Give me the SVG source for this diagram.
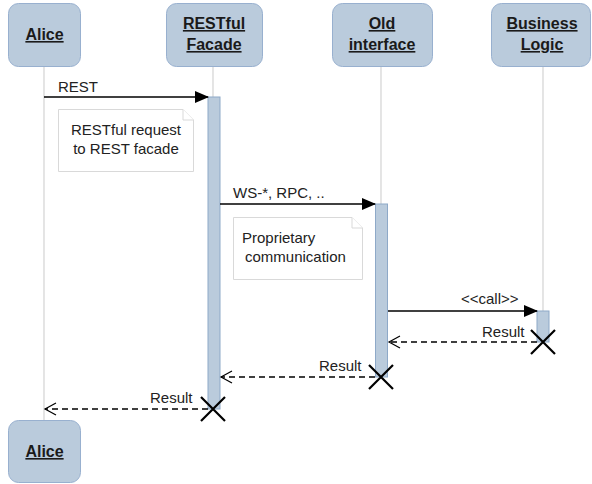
<svg xmlns="http://www.w3.org/2000/svg" width="592" height="484" viewBox="0 0 592 484">
<style>
.box{fill:#bacbdc;stroke:#98b0cf;stroke-width:1}
.lbl{font-family:"Liberation Sans",Arial,sans-serif;font-size:16px;font-weight:bold;text-decoration:underline;fill:#1a1a1a;text-anchor:middle}
.life{stroke:#d3d3d3;stroke-width:1.2;fill:none}
.act{fill:#bacbdc;stroke:#8ea9c8;stroke-width:1}
.msg{stroke:#000;stroke-width:1.3;fill:none}
.ret{stroke:#000;stroke-width:1.3;fill:none;stroke-dasharray:6 4}
.txt{font-family:"Liberation Sans",Arial,sans-serif;font-size:15px;fill:#222}
.note{fill:#fff;stroke:#d9d9d9;stroke-width:1}
.x{stroke:#000;stroke-width:2.2}
</style>
<defs>
<marker id="fill" markerWidth="14" markerHeight="12" refX="13" refY="6" orient="auto" markerUnits="userSpaceOnUse"><path d="M0,0 L14,6 L0,12 Z" fill="#000"/></marker>
<marker id="open" markerWidth="14" markerHeight="14" refX="12" refY="7" orient="auto" markerUnits="userSpaceOnUse"><path d="M1,1 L12,7 L1,13" fill="none" stroke="#000" stroke-width="1.2"/></marker>
</defs>
<g id="lifelines">
<line class="life" x1="44" y1="67" x2="44" y2="420"/>
<line class="life" x1="213" y1="67" x2="213" y2="409"/>
<line class="life" x1="381" y1="67" x2="381" y2="377"/>
<line class="life" x1="543" y1="67" x2="543" y2="342"/>
</g>
<g id="alice"><rect class="box" x="8.5" y="3.5" width="72" height="63" rx="10"/><text class="lbl" x="44.5" y="40">Alice</text></g>
<g id="restful"><rect class="box" x="166.5" y="3.5" width="96" height="63" rx="10"/><text class="lbl" x="214" y="29">RESTful</text><text class="lbl" x="214" y="50">Facade</text></g>
<g id="old"><rect class="box" x="332.5" y="3.5" width="100" height="63" rx="10"/><text class="lbl" x="382" y="29">Old</text><text class="lbl" x="382" y="50">interface</text></g>
<g id="business"><rect class="box" x="491.5" y="3.5" width="99" height="63" rx="10"/><text class="lbl" x="542" y="29">Business</text><text class="lbl" x="542" y="50">Logic</text></g>
<g id="alice-bottom"><rect class="box" x="8.5" y="420.5" width="72" height="62" rx="10"/><text class="lbl" x="44.5" y="457">Alice</text></g>
<g id="activations">
<rect class="act" x="208" y="97" width="12" height="312"/>
<rect class="act" x="375.5" y="204" width="12" height="173"/>
<rect class="act" x="537" y="311" width="12" height="31"/>
</g>
<g id="note1"><path class="note" d="M58.5,109.5 H183 L193.5,120 V171.5 H58.5 Z"/><path class="note" d="M183,109.5 V120 H193.5" fill="none"/><text class="txt" x="126" y="135" text-anchor="middle">RESTful request</text><text class="txt" x="126" y="154" text-anchor="middle">to REST facade</text></g>
<g id="note2"><path class="note" d="M233.5,217.5 H352 L362.5,228 V279.5 H233.5 Z"/><path class="note" d="M352,217.5 V228 H362.5" fill="none"/><text class="txt" x="242" y="243">Proprietary</text><text class="txt" x="245" y="262">communication</text></g>
<g id="connectors">
<line class="msg" x1="44" y1="97" x2="208" y2="97" marker-end="url(#fill)"/>
<text class="txt" x="58" y="92">REST</text>
<line class="msg" x1="220" y1="204" x2="375" y2="204" marker-end="url(#fill)"/>
<text class="txt" x="233" y="198">WS-*, RPC, ..</text>
<line class="msg" x1="388" y1="311" x2="537" y2="311" marker-end="url(#fill)"/>
<text class="txt" x="461" y="304">&lt;&lt;call&gt;&gt;</text>
<line class="ret" x1="537" y1="342" x2="389" y2="342" marker-end="url(#open)"/>
<text class="txt" x="482" y="337">Result</text>
<line class="ret" x1="375" y1="377" x2="221" y2="377" marker-end="url(#open)"/>
<text class="txt" x="319" y="371">Result</text>
<line class="ret" x1="208" y1="409" x2="45" y2="409" marker-end="url(#open)"/>
<text class="txt" x="150" y="403">Result</text>
</g>
<g id="destroy">
<path class="x" d="M531,330 L555,354 M555,330 L531,354"/>
<path class="x" d="M369,365 L393,389 M393,365 L369,389"/>
<path class="x" d="M201,397 L225,421 M225,397 L201,421"/>
</g>
</svg>
